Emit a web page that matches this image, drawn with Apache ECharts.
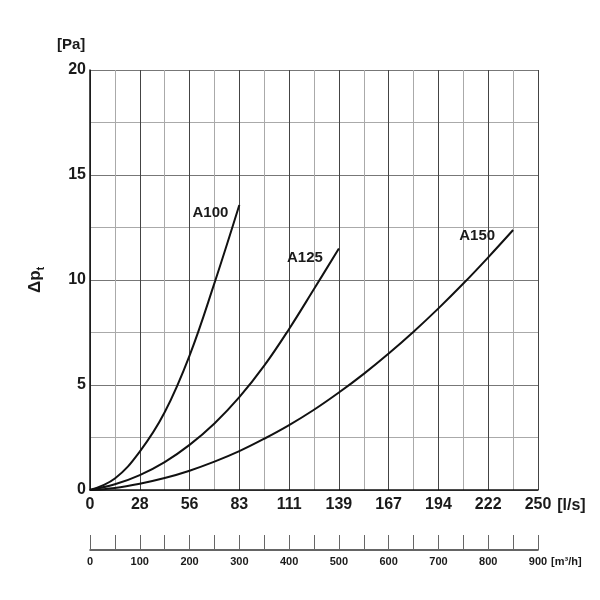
<!DOCTYPE html>
<html>
<head>
<meta charset="utf-8">
<script src="https://cdn.jsdelivr.net/npm/echarts@6/dist/echarts.min.js"></script>
<style>
  html, body { margin: 0; padding: 0; background: #fff; }
  #chart { width: 600px; height: 600px; }
</style>
</head>
<body>
<div id="chart"></div>
<script>
// flow in m3/h, pressure drop in Pa
var flowA100 = [0, 50, 100, 150, 200, 250, 300];
var dpA100 = [0, 0.55, 1.83, 3.7, 6.4, 9.85, 13.57];

var flowA125 = [0, 50, 100, 150, 200, 250, 300, 350, 400, 450, 500];
var dpA125 = [0, 0.27, 0.71, 1.33, 2.15, 3.17, 4.42, 5.92, 7.67, 9.57, 11.5];

var flowA150 = [0, 50, 100, 150, 200, 250, 300, 350, 400, 450, 500, 550, 600, 650, 700, 750, 800, 850];
var dpA150 = [0, 0.1, 0.3, 0.57, 0.92, 1.35, 1.85, 2.44, 3.09, 3.82, 4.64, 5.53, 6.5, 7.54, 8.65, 9.83, 11.08, 12.38];

var seriesNames = ['A100', 'A125', 'A150'];
var yTicks = [0, 5, 10, 15, 20];

var txt = '#1a1a1a';
var font = 'Liberation Sans';

// where the curve name sits, relative to the curve end
var endLabelOffset = {
    A100: [-19, 8],
    A125: [-24, 9],
    A150: [-26, 6]
};

function pairs(flows, dps) {
    return flows.map(function (f, i) { return [f, dps[i]]; });
}

var chart = echarts.init(document.getElementById('chart'));

var curves = [
    { name: seriesNames[0], data: pairs(flowA100, dpA100) },
    { name: seriesNames[1], data: pairs(flowA125, dpA125) },
    { name: seriesNames[2], data: pairs(flowA150, dpA150) }
];

var option = {
    animation: false,
    backgroundColor: '#fff',
    title: {
        text: '[Pa]',
        left: 52,
        top: 32,
        textStyle: { color: txt, fontFamily: font, fontWeight: 'bold', fontSize: 15 }
    },
    grid: [
        { left: 90, right: 62, top: 70, bottom: 110 },
        { left: 90, right: 62, top: 530, bottom: 50 }
    ],
    xAxis: [{
        type: 'value',
        gridIndex: 0,
        min: 0,
        max: 900,
        interval: 100,
        name: '[l/s]',
        nameLocation: 'end',
        nameGap: 17,
        nameTextStyle: {
            color: txt, fontFamily: font, fontWeight: 'bold', fontSize: 16,
            verticalAlign: 'top', padding: [8, 0, 0, 0]
        },
        axisLine: { lineStyle: { color: '#111', width: 1.5 } },
        axisTick: { show: false },
        axisLabel: {
            margin: 7,
            color: txt, fontFamily: font, fontWeight: 'bold', fontSize: 16,
            formatter: function (v) { return Math.round(v / 3.6); }
        },
        splitLine: { show: true, lineStyle: { color: '#444', width: 1 } },
        minorTick: { show: false, splitNumber: 2 },
        minorSplitLine: { show: true, lineStyle: { color: '#aaa', width: 1 } }
    }, {
        type: 'value',
        gridIndex: 1,
        min: 0,
        max: 900,
        interval: 50,
        name: '[m\u00b3/h]',
        nameLocation: 'end',
        nameGap: 12,
        nameTextStyle: {
            color: txt, fontFamily: font, fontWeight: 'bold', fontSize: 11,
            verticalAlign: 'top', padding: [6, 0, 0, 0]
        },
        axisLine: { lineStyle: { color: '#333', width: 1.5 } },
        axisTick: { show: true, inside: true, length: 15, lineStyle: { color: '#666' } },
        axisLabel: {
            margin: 6,
            color: txt, fontFamily: font, fontWeight: 'bold', fontSize: 11,
            formatter: function (v) { return v % 100 === 0 ? v : ''; }
        },
        splitLine: { show: false }
    }],
    yAxis: [{
        type: 'value',
        gridIndex: 0,
        min: yTicks[0],
        max: yTicks[yTicks.length - 1],
        interval: 5,
        name: '{a|\u0394p}{s|t}',
        nameLocation: 'middle',
        nameRotate: 90,
        nameGap: 44,
        nameTextStyle: {
            rich: {
                a: { color: txt, fontFamily: font, fontWeight: 'bold', fontSize: 17, lineHeight: 22 },
                s: { color: txt, fontFamily: font, fontWeight: 'bold', fontSize: 10, lineHeight: 10, verticalAlign: 'bottom' }
            }
        },
        axisLine: { show: true, lineStyle: { color: '#111', width: 1.5 } },
        axisTick: { show: false },
        axisLabel: {
            margin: 4,
            color: txt, fontFamily: font, fontWeight: 'bold', fontSize: 16
        },
        splitLine: { show: true, lineStyle: { color: '#777', width: 1 } },
        minorTick: { show: false, splitNumber: 2 },
        minorSplitLine: { show: true, lineStyle: { color: '#aaa', width: 1 } }
    }, {
        type: 'value',
        gridIndex: 1,
        min: 0,
        max: 1,
        show: false
    }],
    series: curves.map(function (s) {
        return {
            name: s.name,
            type: 'line',
            xAxisIndex: 0,
            yAxisIndex: 0,
            smooth: 0.4,
            showSymbol: false,
            symbol: 'none',
            lineStyle: { color: '#111', width: 2 },
            endLabel: {
                show: true,
                formatter: s.name,
                align: 'right',
                offset: endLabelOffset[s.name],
                color: txt,
                fontFamily: font,
                fontWeight: 'bold',
                fontSize: 15
            },
            data: s.data
        };
    })
};

chart.setOption(option);
</script>
</body>
</html>
